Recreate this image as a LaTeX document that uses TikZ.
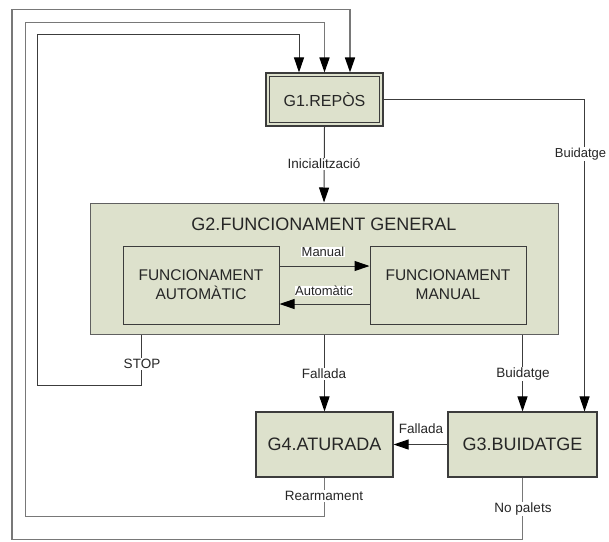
\documentclass[tikz,border=0pt]{standalone}
\usepackage{fontspec}
\setmainfont{Liberation Sans}
\usetikzlibrary{arrows.meta}
\definecolor{boxfill}{RGB}{221,225,204}
\definecolor{edge}{RGB}{60,60,60}
\definecolor{txt}{RGB}{38,38,38}
\definecolor{loopgray}{RGB}{120,120,120}
\begin{document}
\begin{tikzpicture}[x=1pt,y=-1pt,
  state/.style={draw=edge, line width=1.1pt, fill=boxfill, text=txt,
    inner sep=0pt, align=center},
  bigtext/.style={font=\fontsize{18}{20}\selectfont},
  subtext/.style={font=\fontsize{15.5}{19}\selectfont},
  wire/.style={draw=edge, line width=1pt},
  tip/.style={-{Triangle[length=15pt,width=10pt,color=black]}},
  flow/.style={wire, tip},
  outerloop/.style={draw=loopgray, line width=1.6pt, tip},
  lbl/.style={fill=white, text=txt, inner sep=1pt,
    font=\fontsize{13.5}{15}\selectfont},
  plainlbl/.style={text=txt, inner sep=1pt, font=\fontsize{13.5}{15}\selectfont}
]
\useasboundingbox (0,0) rectangle (609,541);

% states
\node[state, minimum width=117pt, minimum height=53pt,
  font=\fontsize{16}{18}\selectfont] (g1) at (324.5,99.5) {G1.REPÒS};
\draw[edge, line width=1.1pt]
  ([shift={(4pt,-4pt)}]g1.north west) rectangle ([shift={(-4pt,4pt)}]g1.south east);

\node[state, draw=loopgray!80!black, line width=1pt, minimum width=468pt, minimum height=131pt]
  (g2) at (324,268.5) {};
\node[bigtext, text=txt] (g2title) at (324,224) {G2.FUNCIONAMENT GENERAL};
\node[state, line width=1pt, subtext, minimum width=156pt, minimum height=78pt]
  (fa) at (201,285) {FUNCIONAMENT\\AUTOMÀTIC};
\node[state, line width=1pt, subtext, minimum width=156pt, minimum height=78pt]
  (fm) at (448,285) {FUNCIONAMENT\\MANUAL};

\node[state, bigtext, minimum width=137pt, minimum height=65pt] (g4) at (324.5,444.5) {G4.ATURADA};
\node[state, bigtext, minimum width=149pt, minimum height=65pt] (g3) at (522.5,444.5) {G3.BUIDATGE};

% transitions inside G2
\draw[flow] ([yshift=19pt]fa.east) -- ([yshift=19pt]fm.west);
\draw[flow] ([yshift=-19pt]fm.west) -- ([yshift=-19pt]fa.east);
\node[lbl, inner sep=0.5pt, font=\fontsize{13}{15}\selectfont] (lmanual) at (323,252) {Manual};
\node[lbl, inner sep=0.5pt, font=\fontsize{13}{15}\selectfont] (lauto) at (324,291) {Automàtic};

% main transitions
\draw[flow] (g1.south) -- (g2.north);
\node[lbl] (linit) at (324,164) {Inicialització};

\draw[flow] (g1.east) -| ([xshift=-13pt]g3.north east);
\node[lbl, inner sep=0.5pt, font=\fontsize{13}{15}\selectfont] (lbuid1) at (580.5,154) {Buidatge};

\draw[flow] (g2.south -| g4.north) -- (g4.north);
\node[lbl] (lfall1) at (324,374) {Fallada};

\draw[flow] (g2.south -| g3.north) -- (g3.north);
\node[lbl] (lbuid2) at (523,374) {Buidatge};

\draw[flow] (g3.west) -- (g4.east);
\node[plainlbl] (lfall2) at (421,429) {Fallada};

% return paths to G1
\draw[wire, tip] ([xshift=52pt]g2.south west) -- ++(0,51) -- ++(-104,0)
  -- ++(0,-351) -| ([xshift=-25.5pt]g1.north);
\node[lbl] (lstop) at (142,364) {STOP};

\draw[outerloop] (g4.south) -- ++(0,39) -- ++(-299,0) -- ++(0,-494) -| (g1.north);
\node[lbl] (lrearm) at (324,496) {Rearmament};

\draw[outerloop] (g3.south) -- ++(0,62) -- ++(-510.5,0) -- ++(0,-530)
  -| ([xshift=25.5pt]g1.north);
\node[lbl] (lnopal) at (523,509) {No palets};
\end{tikzpicture}
\end{document}
